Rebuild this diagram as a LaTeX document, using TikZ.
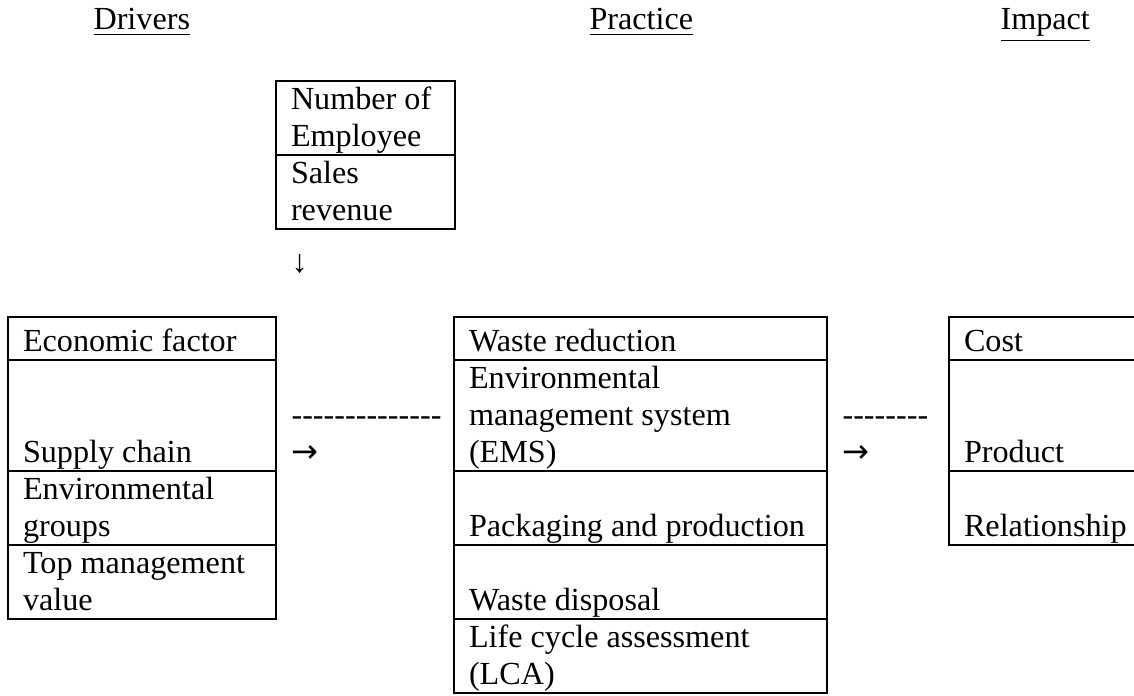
\documentclass[tikz,border=0pt]{standalone}
\usepackage{fontspec}
\setmainfont{Liberation Serif}
\newfontfamily\arrowfont{DejaVu Sans}
\usetikzlibrary{positioning}

\newcommand{\tablefont}{\fontsize{12}{13.8}\selectfont}
\newcommand{\cellstrut}{\rule[-3.2pt]{0pt}{13.8pt}}
\newcommand{\headstrut}{\rule[-3.3pt]{0pt}{16pt}}
\newcommand{\dashes}[1]{\foreach \d in {1,...,#1}{\mbox{-}}}

\tikzset{
	cell/.style={draw, line width=0.7pt, inner xsep=5.6pt, inner ysep=0pt,
		outer sep=0pt, align=flush left, font=\tablefont},
	drivercell/.style={cell, text width=88.8pt},
	practicecell/.style={cell, text width=127.9pt},
	impactcell/.style={cell, draw=none, text width=90pt},
	sizecell/.style={cell, text width=55.6pt},
	rule/.style={line width=0.7pt},
	heading/.style={anchor=base west, inner sep=0pt, font=\tablefont},
	linktext/.style={anchor=north west, inner sep=0pt, align=flush left, font=\tablefont},
}

\begin{document}
\begin{tikzpicture}[x=0.373pt, y=0.373pt]
	\useasboundingbox (0,0) rectangle (1134,695);
	\clip (0,0) rectangle (1134,695);

	% headings
	\node[heading] (drivers) at (93,665) {\underline{Drivers}};
	\node[heading] (practice) at (589,665) {\underline{Practice}};
	\node[heading] (impact) at (1000,665) {\underline{Impact}};

	% firm size
	\node[sizecell, anchor=north west] (employee) at (276,614)
		{Number of\cellstrut\\Employee\cellstrut};
	\node[sizecell, below=0pt of employee] (sales)
		{Sales\cellstrut\\revenue\cellstrut};
	\node[heading] (down) at (291,423) {↓};

	% drivers
	\node[drivercell, anchor=north west] (economic) at (8,378)
		{\headstrut Economic factor};
	\node[drivercell, below=0pt of economic] (supply)
		{\cellstrut\\\cellstrut\\Supply chain\cellstrut};
	\node[drivercell, below=0pt of supply] (groups)
		{Environmental\cellstrut\\groups\cellstrut};
	\node[drivercell, below=0pt of groups] (topmgmt)
		{Top management\cellstrut\\value\cellstrut};

	% practice
	\node[practicecell, anchor=north west] (reduction) at (454,378)
		{\headstrut Waste reduction};
	\node[practicecell, below=0pt of reduction] (ems)
		{Environmental\cellstrut\\management system\cellstrut\\(EMS)\cellstrut};
	\node[practicecell, below=0pt of ems] (packaging)
		{\cellstrut\\Packaging and production\cellstrut};
	\node[practicecell, below=0pt of packaging] (disposal)
		{\cellstrut\\Waste disposal\cellstrut};
	\node[practicecell, below=0pt of disposal] (lca)
		{Life cycle assessment\cellstrut\\(LCA)\cellstrut};

	% impact (runs off the page on the right)
	\node[impactcell, anchor=north west] (cost) at (949,378)
		{\headstrut Cost};
	\node[impactcell, below=0pt of cost] (product)
		{\cellstrut\\\cellstrut\\Product\cellstrut};
	\node[impactcell, below=0pt of product] (relation)
		{\cellstrut\\Relationship\cellstrut};
	\draw[rule] (cost.north east) -- (cost.north west) -- (relation.south west) -- (relation.south east);
	\draw[rule] (cost.south west) -- (cost.south east);
	\draw[rule] (product.south west) -- (product.south east);

	% links
	\node[linktext] (link1) at (291,298) {\dashes{14}\cellstrut\\{\arrowfont →}\cellstrut};
	\node[linktext] (link2) at (842,298) {\dashes{8}\cellstrut\\{\arrowfont →}\cellstrut};
\end{tikzpicture}
\end{document}
